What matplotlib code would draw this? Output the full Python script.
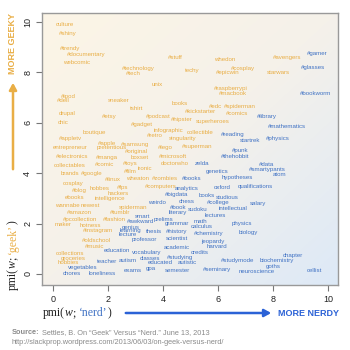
import numpy as np
import matplotlib
matplotlib.use("Agg")
import matplotlib.pyplot as plt
from matplotlib.colors import LinearSegmentedColormap

# ---------------- data ----------------
geek_words = ["culture", "#shiny", "#trendy", "#documentary", "webcomic", "#technology", "#tech",
              "unix", "#stuff", "techy", "whedon", "#cosplay", "#epicwin", "starwars", "#avengers",
              "#raspberrypi", "#macbook", "books", "#edc", "#spiderman", "#kickstarter", "#comics",
              "#hipster", "superheroes", "collectible", "infographic", "#retro", "singularity",
              "#superman", "#lego", "#microsoft", "doctorwho", "#ipod", "#dell", "sneaker", "tshirt",
              "drupal", "chic", "#etsy", "#podcast", "#gadget", "boutique", "#appletv", "entrepreneur",
              "#apple", "pretentious", "#samsung", "#original", "#electronics", "#manga", "boxset",
              "collectables", "#comic", "#toys", "ironic", "brands", "#google", "cosplay", "#linux",
              "#film", "wheaton", "#blog", "hobbes", "#fps", "hackers", "ebooks", "intelligence",
              "wannabe", "newest", "spiderman", "#amazon", "#tumblr", "#zombies", "#computers",
              "#pc", "collection", "#fashion", "maker", "hotness", "#instagram", "#oldschool",
              "#music", "collections", "groceries", "hobbies"]
geek_x = [0.44, 0.55, 0.62, 1.20, 0.84, 3.09, 2.91, 3.78, 4.44, 5.05, 6.25, 6.91, 6.36, 8.18, 8.51,
          6.47, 6.55, 4.62, 5.89, 6.80, 5.35, 6.69, 4.69, 5.82, 5.35, 4.18, 3.71, 4.73, 5.24, 4.07,
          4.36, 4.44, 0.55, 0.36, 2.40, 3.05, 0.51, 0.36, 2.04, 3.82, 3.24, 1.49, 0.62, 0.62, 1.96,
          2.15, 2.98, 3.05, 0.69, 1.96, 3.16, 0.62, 1.89, 2.80, 3.35, 0.62, 1.42, 0.73, 2.18, 2.80,
          3.09, 0.95, 1.71, 2.55, 2.36, 0.80, 2.07, 0.51, 1.35, 2.91, 0.95, 2.44, 4.07, 3.93, 0.55,
          1.16, 2.25, 0.36, 1.35, 1.64, 1.60, 1.53, 0.62, 0.73, 0.55]
geek_y = [9.92, 9.56, 8.97, 8.73, 8.41, 8.17, 7.94, 7.54, 8.61, 8.06, 8.53, 8.17, 7.98, 7.98, 8.61,
          7.38, 7.18, 6.75, 6.63, 6.63, 6.43, 6.35, 6.15, 6.07, 5.63, 5.71, 5.48, 5.36, 5.04, 5.00,
          4.68, 4.37, 7.06, 6.87, 6.87, 6.55, 6.35, 6.03, 6.27, 6.27, 5.95, 5.60, 5.36, 5.00, 5.16,
          5.00, 5.12, 4.88, 4.68, 4.64, 4.64, 4.29, 4.33, 4.40, 4.17, 3.97, 3.97, 3.61, 3.73, 4.05,
          3.77, 3.33, 3.41, 3.45, 3.21, 3.02, 2.98, 2.70, 2.70, 2.62, 2.42, 2.42, 3.77, 3.49, 2.18,
          2.18, 2.18, 1.98, 1.94, 1.71, 1.31, 1.07, 0.83, 0.63, 0.44]

nerd_words = ["#gamer", "#glasses", "#bookworm", "#library", "#mathematics", "#reading", "startrek",
              "#physics", "#punk", "#thehobbit", "zelda", "#data", "#smartypants", "genetics", "atom",
              "hypotheses", "oxford", "qualifications", "#books", "analytics", "#bigdata", "books",
              "studious", "chess", "#college", "salary", "weirdo", "#book", "sudoku", "intellectual",
              "literary", "lectures", "smart", "prelims", "#awkward", "grammar", "math", "calculus",
              "physics", "genius", "thesis", "#history", "learning", "professor", "lecture",
              "scientist", "#chemistry", "biology", "jeopardy", "harvard", "academic", "credits",
              "#studying", "chapter", "education", "vocabulary", "classes", "teacher", "autism",
              "educated", "autistic", "#studymode", "biochemistry", "vegetables", "chores",
              "loneliness", "exams", "gpa", "semester", "#seminary", "goths", "neuroscience", "cellist"]
nerd_x = [9.60, 9.45, 9.53, 7.78, 8.51, 6.55, 7.16, 8.18, 6.80, 6.62, 5.42, 7.78, 7.78, 5.96, 8.25,
          6.69, 6.15, 7.35, 5.05, 4.86, 4.51, 5.60, 6.33, 4.87, 6.00, 7.45, 3.78, 4.55, 5.27, 6.55,
          4.55, 5.89, 3.27, 4.00, 3.20, 4.51, 5.35, 5.42, 6.87, 2.84, 3.68, 4.51, 2.80, 3.32, 2.70,
          4.51, 5.67, 7.09, 5.82, 5.96, 4.51, 5.35, 4.62, 8.73, 2.33, 3.42, 3.53, 1.96, 2.73, 3.89,
          4.87, 6.73, 8.15, 1.09, 0.69, 1.78, 2.91, 3.56, 4.51, 5.96, 8.00, 7.42, 9.49]
nerd_y = [8.77, 8.21, 7.18, 6.27, 5.87, 5.52, 5.28, 5.36, 4.92, 4.68, 4.40, 4.33, 4.13, 4.05, 3.93,
          3.81, 3.45, 3.49, 3.77, 3.41, 3.17, 3.13, 3.02, 2.86, 2.82, 2.78, 2.82, 2.62, 2.54, 2.58,
          2.42, 2.30, 2.26, 2.18, 2.07, 2.02, 2.10, 1.87, 2.02, 1.86, 1.68, 1.67, 1.72, 1.38, 1.56,
          1.39, 1.59, 1.63, 1.27, 1.07, 1.03, 0.87, 0.67, 0.75, 0.91, 0.87, 0.63, 0.48, 0.52, 0.44,
          0.44, 0.52, 0.52, 0.24, 0.00, 0.00, 0.12, 0.20, 0.12, 0.16, 0.28, 0.08, 0.12]

ticks = [0, 2, 4, 6, 8, 10]

GEEK = "#E9AE45"
NERD = "#4072C4"
ARROW_BLUE = "#2B62D6"

W, H = 350, 350
fig = plt.figure(figsize=(W / 100, H / 100), dpi=100)
fig.patch.set_facecolor("white")

L, R, T, B = 42, 338, 13, 285
ax = fig.add_axes([L / W, 1 - B / H, (R - L) / W, (B - T) / H])
ax.set_xlim(-0.4, 10.36)
ax.set_ylim(-0.44, 10.36)

# background gradient (cream top-left -> light blue bottom-right)
n = 200
gx, gy = np.meshgrid(np.linspace(0, 1, n), np.linspace(0, 1, n))
t = np.clip((gx + gy) / 2.0, 0, 1)
cmap = LinearSegmentedColormap.from_list("bg", ["#FCF5E6", "#F5F1EA", "#DDE9F7"])
ax.imshow(t, cmap=cmap, extent=[-0.4, 10.36, -0.44, 10.36], origin="upper",
          aspect="auto", zorder=0, interpolation="bilinear")

wfont = dict(family=["Liberation Sans", "DejaVu Sans"], fontsize=4.4,
             ha="center", va="center", zorder=2)
for w, x, y in zip(geek_words, geek_x, geek_y):
    ax.text(x, y, w, color=GEEK, **wfont)
for w, x, y in zip(nerd_words, nerd_x, nerd_y):
    ax.text(x, y, w, color=NERD, **wfont)

ax.set_xticks(ticks)
ax.set_yticks(ticks)
ax.set_xticklabels([str(v) for v in ticks], fontsize=6.5, family="Liberation Sans", color="#222222")
ax.set_yticklabels([str(v) for v in ticks], fontsize=6.5, family="Liberation Sans",
                   color="#222222", rotation=90, va="center")
ax.tick_params(direction="out", length=4, width=0.8, color="#777777", pad=3)
for s in ax.spines.values():
    s.set_color("#999999")
    s.set_linewidth(1.0)

# ---------- axis labels built from pieces ----------
fig.canvas.draw()
renderer = fig.canvas.get_renderer()
serif = ["Liberation Serif", "DejaVu Serif"]


def chain(pieces, x0, y0, rotation=0):
    x, y = x0, y0
    for s, kw in pieces:
        tt = fig.text(x / W, 1 - y / H, s, rotation=rotation, rotation_mode="anchor",
                      ha="left", va="baseline", family=serif, fontsize=8.5, **kw)
        bb = tt.get_window_extent(renderer)
        if rotation == 0:
            x += bb.width
        else:
            y -= bb.height


chain([("pmi(", dict(color="#222222")), ("w", dict(color="#222222", style="italic")),
       ("; ", dict(color="#222222")), ("\u2018nerd\u2019", dict(color=NERD)),
       (")", dict(color="#222222"))], 43, 316, 0)
chain([("pmi(", dict(color="#222222")), ("w", dict(color="#222222", style="italic")),
       ("; ", dict(color="#222222")), ("\u2018geek\u2019", dict(color=GEEK)),
       (")", dict(color="#222222"))], 16, 290, 90)

# arrows
fig.add_artist(matplotlib.patches.FancyArrowPatch(
    (123 / W, 1 - 313 / H), (274 / W, 1 - 313 / H), transform=fig.transFigure,
    arrowstyle="-|>,head_length=4,head_width=2.2", color=ARROW_BLUE, lw=1.8,
    mutation_scale=1))
fig.text(309 / W, 1 - 313 / H, "MORE NERDY", color=ARROW_BLUE, fontsize=6.5,
         fontweight="bold", family=["Liberation Sans", "DejaVu Sans"], ha="center", va="center")

fig.add_artist(matplotlib.patches.FancyArrowPatch(
    (13 / W, 1 - 172 / H), (13 / W, 1 - 80 / H), transform=fig.transFigure,
    arrowstyle="-|>,head_length=4,head_width=2.2", color=GEEK, lw=1.8,
    mutation_scale=1))
fig.text(13 / W, 1 - 44 / H, "MORE GEEKY", color=GEEK, fontsize=6.5, rotation=90,
         fontweight="bold", family=["Liberation Sans", "DejaVu Sans"], ha="center", va="center")

# source
src = fig.text(12 / W, 1 - 333 / H, "Source:", color="#8a8a8a", fontsize=5.3,
               fontweight="bold", family=["Liberation Sans", "DejaVu Sans"], va="center")
bb = src.get_window_extent(renderer)
fig.text((12 + bb.width + 2) / W, 1 - 333 / H,
         "Settles, B. On \u201cGeek\u201d Versus \u201cNerd.\u201d June 13, 2013",
         color="#8a8a8a", fontsize=5.3, family=["Liberation Sans", "DejaVu Sans"], va="center")
fig.text(12 / W, 1 - 343 / H, "http://slackprop.wordpress.com/2013/06/03/on-geek-versus-nerd/",
         color="#8a8a8a", fontsize=5.3, family=["Liberation Sans", "DejaVu Sans"], va="center")

fig.savefig("out.png", dpi=100, facecolor="white")
